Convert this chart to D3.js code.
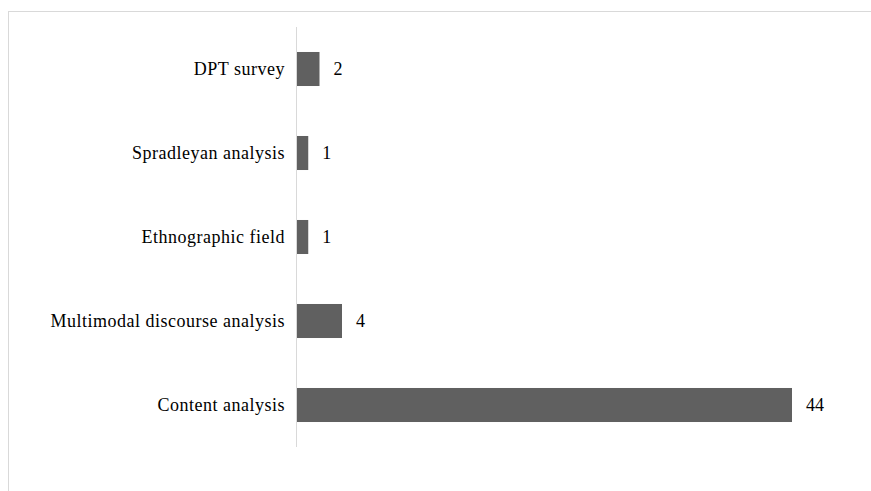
<!DOCTYPE html>
<html>
<head>
<meta charset="utf-8">
<script src="https://cdn.jsdelivr.net/npm/d3@7"></script>
<style>
  html, body { margin: 0; padding: 0; background: #fff; }
  svg { display: block; }
</style>
</head>
<body>
<svg id="chart" width="871" height="491"></svg>
<script>
// Research methods and number of studies using each
const methods = ["DPT survey", "Spradleyan analysis", "Ethnographic field", "Multimodal discourse analysis", "Content analysis"];
const counts = [2, 1, 1, 4, 44];

const svg = d3.select("#chart");
const W = 871, H = 491;
const font = "'Liberation Serif', 'Times New Roman', serif";

// chart frame
svg.append("rect")
  .attr("x", 8.5).attr("y", 11.5)
  .attr("width", W).attr("height", H)
  .attr("fill", "#fff").attr("stroke", "#d9d9d9").attr("stroke-width", 1);

const x0 = 297;
const x = d3.scaleLinear().domain([0, 44]).range([x0, 792]);
const y = d3.scaleBand().domain(methods).range([27, 447]).paddingInner(0.595).paddingOuter(0.2975);

// category axis line
svg.append("line")
  .attr("x1", x0 - 0.5).attr("x2", x0 - 0.5)
  .attr("y1", 27).attr("y2", 447)
  .attr("stroke", "#d9d9d9").attr("stroke-width", 1);

// bars
svg.selectAll("rect.bar")
  .data(methods)
  .join("rect")
  .attr("class", "bar")
  .attr("x", x(0))
  .attr("y", d => y(d))
  .attr("width", (d, i) => x(counts[i]) - x(0))
  .attr("height", y.bandwidth())
  .attr("fill", "#606060");

// category labels
svg.selectAll("text.cat")
  .data(methods)
  .join("text")
  .attr("class", "cat")
  .attr("x", 285)
  .attr("y", d => y(d) + y.bandwidth() / 2)
  .attr("dy", "0.35em")
  .attr("text-anchor", "end")
  .attr("font-family", font)
  .attr("font-size", 18)
  .attr("letter-spacing", 0.5)
  .attr("fill", "#000")
  .text(d => d);

// value labels
svg.selectAll("text.val")
  .data(methods)
  .join("text")
  .attr("class", "val")
  .attr("x", (d, i) => x(counts[i]) + 14)
  .attr("y", d => y(d) + y.bandwidth() / 2)
  .attr("dy", "0.35em")
  .attr("font-family", font)
  .attr("font-size", 18)
  .attr("fill", "#000")
  .text((d, i) => counts[i]);
</script>
</body>
</html>
